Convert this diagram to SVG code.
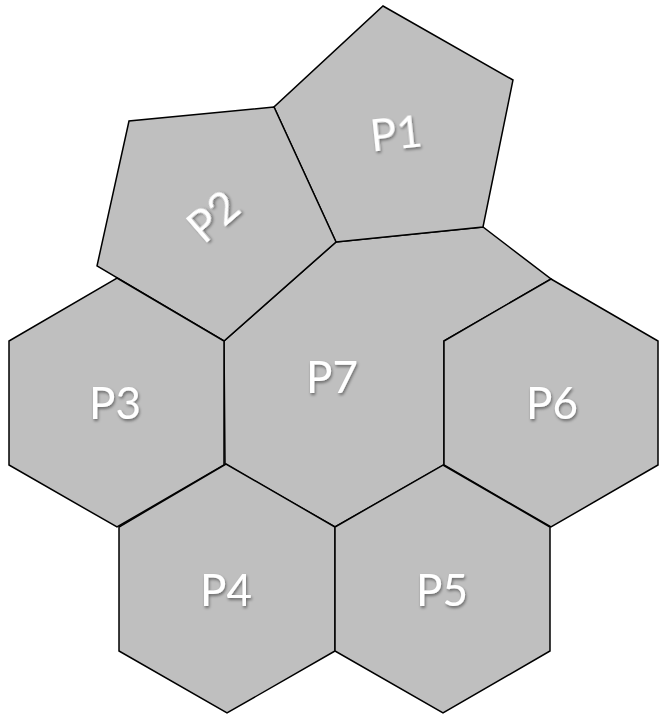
<svg xmlns="http://www.w3.org/2000/svg" width="660" height="716" viewBox="0 0 660 716">
<style>
.t{fill:#bfbfbf;stroke:#000;stroke-width:1.5;stroke-linejoin:miter}
.l{font-family:Lato,"Open Sans","Liberation Sans",sans-serif;font-size:44px;fill:#fff;text-anchor:middle;filter:url(#sh)}
</style>
<defs>
<filter id="sh" x="-30%" y="-30%" width="160%" height="160%">
<feDropShadow dx="1" dy="2" stdDeviation="1.5" flood-color="#000" flood-opacity="0.45"/>
</filter>
</defs>
<rect width="660" height="716" fill="#fff"/>
<g id="P7"><polygon class="t" points="336,242 483,227 551,279 444,341 444,465 335,527 225,464 224,341"/><text class="l" x="332" y="393">P7</text></g>
<g id="P1"><polygon class="t" points="383,6 513,80 483,227 336,242 274,107"/><g transform="translate(396,133) rotate(-6)"><text class="l" x="0" y="16">P1</text></g></g>
<g id="P2"><polygon class="t" points="274,107 129,121 97,266 224,341 336,242"/><g transform="translate(213,216) rotate(-41)"><text class="l" x="0" y="16">P2</text></g></g>
<g id="P3"><polygon class="t" points="117,278 224,341 224,465 117,527 9,465 9,341"/><text class="l" x="115" y="419">P3</text></g>
<g id="P6"><polygon class="t" points="551,279 658,341 658,465 551,527 444,465 444,341"/><text class="l" x="552" y="419">P6</text></g>
<g id="P4"><polygon class="t" points="226,464 335,527 335,651 227,713 119,651 119,527"/><text class="l" x="226" y="606">P4</text></g>
<g id="P5"><polygon class="t" points="443,465 550,527 550,651 443,713 335,651 335,527"/><text class="l" x="442" y="606">P5</text></g>
<g id="connectors"></g>
</svg>
